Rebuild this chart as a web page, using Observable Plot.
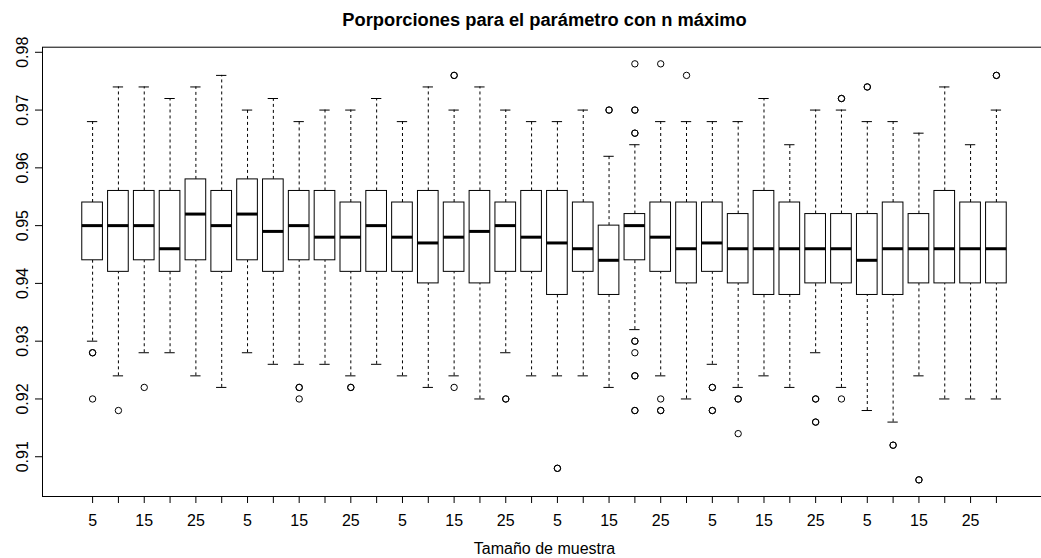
<!DOCTYPE html>
<html>
<head>
<meta charset="utf-8">
<script src="https://cdn.jsdelivr.net/npm/d3@7"></script>
<script src="https://cdn.jsdelivr.net/npm/@observablehq/plot@0.6"></script>
<style>
  html, body { margin: 0; padding: 0; background: white; overflow: hidden; }
</style>
</head>
<body>
<div id="chart"></div>
<script>
// Sample sizes (6 groups of 6 boxes)
const sizes = [5, 10, 15, 20, 25, 30];
// Five-number summaries per box (36 boxes)
const lowWhisker = [0.930,0.924,0.928,0.928,0.924,0.922, 0.928,0.926,0.926,0.926,0.924,0.926,
                    0.924,0.922,0.924,0.920,0.928,0.924, 0.924,0.924,0.922,0.932,0.924,0.920,
                    0.926,0.922,0.924,0.922,0.928,0.922, 0.918,0.916,0.924,0.920,0.920,0.920];
const q1 = [0.944,0.942,0.944,0.942,0.944,0.942, 0.944,0.942,0.944,0.944,0.942,0.942,
            0.942,0.940,0.942,0.940,0.942,0.942, 0.938,0.942,0.938,0.944,0.942,0.940,
            0.942,0.940,0.938,0.938,0.940,0.940, 0.938,0.938,0.940,0.940,0.940,0.940];
const median = [0.950,0.950,0.950,0.946,0.952,0.950, 0.952,0.949,0.950,0.948,0.948,0.950,
                0.948,0.947,0.948,0.949,0.950,0.948, 0.947,0.946,0.944,0.950,0.948,0.946,
                0.947,0.946,0.946,0.946,0.946,0.946, 0.944,0.946,0.946,0.946,0.946,0.946];
const q3 = [0.954,0.956,0.956,0.956,0.958,0.956, 0.958,0.958,0.956,0.956,0.954,0.956,
            0.954,0.956,0.954,0.956,0.954,0.956, 0.956,0.954,0.950,0.952,0.954,0.954,
            0.954,0.952,0.956,0.954,0.952,0.952, 0.952,0.954,0.952,0.956,0.954,0.954];
const highWhisker = [0.968,0.974,0.974,0.972,0.974,0.976, 0.970,0.972,0.968,0.970,0.970,0.972,
                     0.968,0.974,0.970,0.974,0.970,0.968, 0.968,0.970,0.962,0.964,0.968,0.968,
                     0.968,0.968,0.972,0.964,0.970,0.970, 0.968,0.968,0.966,0.974,0.964,0.970];
const outliers = [
  [0.928,0.928,0.920],[0.918],[0.922],[],[],[],
  [],[],[0.922,0.922,0.920],[],[0.922,0.922],[],
  [],[],[0.976,0.976,0.922],[],[0.920,0.920],[],
  [0.908,0.908],[],[0.970,0.970],[0.978,0.970,0.970,0.966,0.966,0.930,0.930,0.928,0.924,0.924,0.918,0.918],[0.978,0.920,0.918,0.918],[0.976],
  [0.922,0.922,0.918,0.918],[0.920,0.920,0.914],[],[],[0.920,0.920,0.916,0.916],[0.972,0.972,0.920],
  [0.974,0.974],[0.912,0.912],[0.906,0.906],[],[],[0.976,0.976]
];
const yTicks = [0.91, 0.92, 0.93, 0.94, 0.95, 0.96, 0.97, 0.98];
const title = "Porporciones para el parámetro con n máximo";
const xTitle = "Tamaño de muestra";

const rows = lowWhisker.map((lo, k) => ({
  i: k + 1, size: sizes[k % sizes.length],
  lo, q1: q1[k], med: median[k], q3: q3[k], hi: highWhisker[k]
}));
const outRows = outliers.flatMap((arr, k) => arr.map(v => ({i: k + 1, v})));
const idx = rows.map(d => d.i);
// R drops overlapping labels: only every other label shown
const shown = rows.filter((d, k) => k % 2 === 0);

const n = rows.length;
const ext = 0.04 * n;
const allVals = rows.flatMap(d => [d.lo, d.hi]).concat(outRows.map(d => d.v));
const ymin = d3.min(allVals), ymax = d3.max(allVals);
const yext = 0.04 * (ymax - ymin);

const font = "'Liberation Sans', Arial, Helvetica, sans-serif";

const chart = Plot.plot({
  width: 1041,
  height: 558,
  marginLeft: 42,
  marginRight: -5,
  marginTop: 46.7,
  marginBottom: 62,
  style: {fontFamily: font, fontSize: "16px", background: "white", color: "black"},
  x: {domain: [0.5 - ext, n + 0.5 + ext], axis: null},
  y: {domain: [ymin - yext, ymax + yext], axis: null},
  marks: [
    Plot.frame({stroke: "black", strokeWidth: 1}),
    // whiskers
    Plot.ruleX(rows, {x: "i", y1: "q3", y2: "hi", stroke: "black", strokeDasharray: "3,3"}),
    Plot.ruleX(rows, {x: "i", y1: "lo", y2: "q1", stroke: "black", strokeDasharray: "3,3"}),
    // staples
    Plot.ruleY(rows, {y: "hi", x1: d => d.i - 0.2, x2: d => d.i + 0.2, stroke: "black"}),
    Plot.ruleY(rows, {y: "lo", x1: d => d.i - 0.2, x2: d => d.i + 0.2, stroke: "black"}),
    // boxes
    Plot.rect(rows, {x1: d => d.i - 0.4, x2: d => d.i + 0.4, y1: "q1", y2: "q3", fill: "white", stroke: "black", strokeWidth: 1}),
    // medians
    Plot.ruleY(rows, {y: "med", x1: d => d.i - 0.4, x2: d => d.i + 0.4, stroke: "black", strokeWidth: 3, strokeLinecap: "butt"}),
    // outliers
    Plot.dot(outRows, {x: "i", y: "v", r: 3.2, stroke: "black", fill: "none", strokeWidth: 1}),
    // axes ticks
    Plot.axisX({ticks: idx, tickSize: 7, tickFormat: () => "", label: null, stroke: "black"}),
    Plot.axisY({ticks: yTicks, tickSize: 7, tickFormat: () => "", label: null, stroke: "black"}),
    // x tick labels
    Plot.text(shown, {x: "i", text: d => String(d.size), frameAnchor: "bottom", dy: 29, lineAnchor: "bottom", fill: "black"}),
    // y tick labels
    Plot.text(yTicks, {y: d => d, text: d => d.toFixed(2), frameAnchor: "left", dx: -15, rotate: -90, lineAnchor: "bottom", textAnchor: "middle", fill: "black"}),
    // axis title
    Plot.text([xTitle], {frameAnchor: "bottom", dy: 57, lineAnchor: "bottom", fill: "black"}),
    // main title
    Plot.text([title], {frameAnchor: "top", dy: -21.7, lineAnchor: "bottom", fontWeight: "bold", fontSize: 18.3, fill: "black"})
  ]
});
document.getElementById("chart").appendChild(chart);
</script>
</body>
</html>
